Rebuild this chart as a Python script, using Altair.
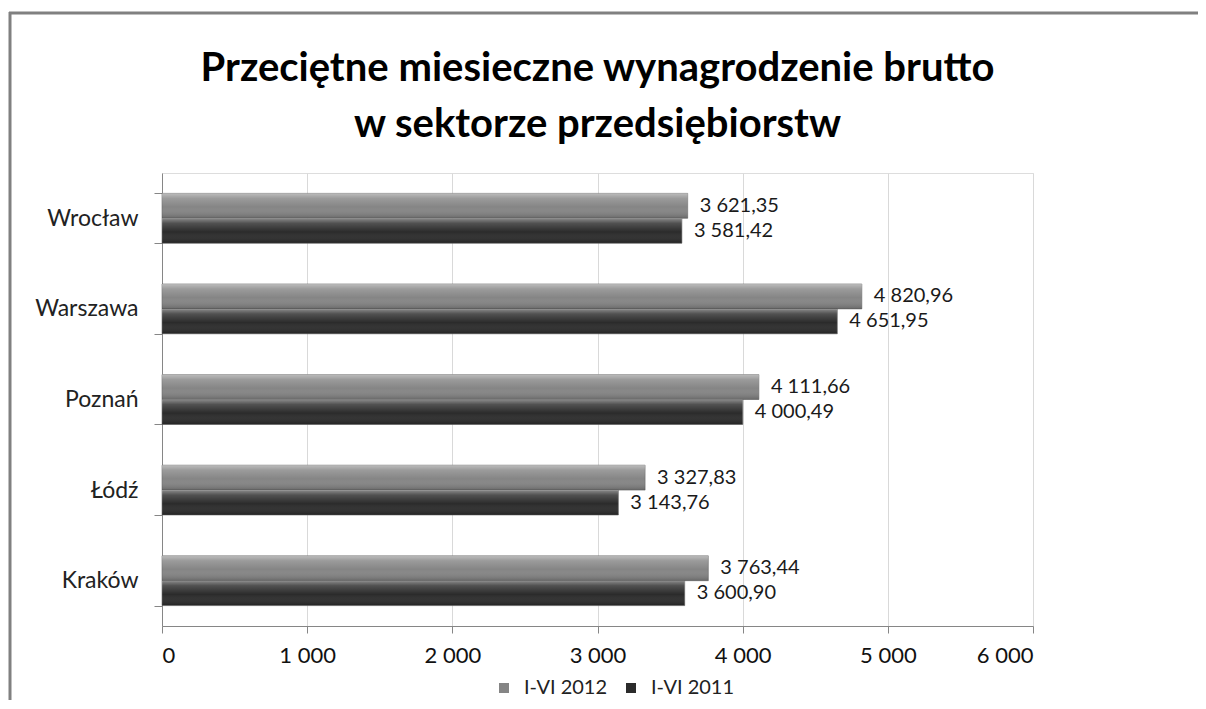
import altair as alt
import pandas as pd

cities = ["Wrocław", "Warszawa", "Poznań", "Łódź", "Kraków"]
series = ["I-VI 2012", "I-VI 2011"]
values_2012 = [3621.35, 4820.96, 4111.66, 3327.83, 3763.44]
values_2011 = [3581.42, 4651.95, 4000.49, 3143.76, 3600.90]
x_ticks = [0, 1000, 2000, 3000, 4000, 5000, 6000]
title_lines = ["Przeciętne miesieczne wynagrodzenie brutto", "w sektorze przedsiębiorstw"]


def pl(v):
    return f"{v:,.2f}".replace(",", " ").replace(".", ",")


rows = []
for c, a, b in zip(cities, values_2012, values_2011):
    rows.append({"miasto": c, "okres": series[0], "wartosc": a, "etykieta": pl(a)})
    rows.append({"miasto": c, "okres": series[1], "wartosc": b, "etykieta": pl(b)})
df = pd.DataFrame(rows)

FONT = "Lato"

x_enc = alt.X(
    "wartosc:Q",
    scale=alt.Scale(domain=[0, 6000], nice=False),
    axis=alt.Axis(
        values=x_ticks,
        title=None,
        grid=True,
        gridColor="#d9d9d9",
        domainColor="#868686",
        tickColor="#868686",
        tickSize=7,
        labelFontSize=22,
        labelFont=FONT,
        labelColor="#111111",
        labelPadding=12,
        labelExpr="replace(format(datum.value, ','), ',', ' ')",
    ),
)
y_enc = alt.Y(
    "miasto:N",
    sort=cities,
    scale=alt.Scale(paddingInner=0.45, paddingOuter=0.225),
    axis=alt.Axis(
        title=None,
        grid=False,
        tickBand="extent",
        domainColor="#868686",
        tickColor="#868686",
        tickSize=8,
        labelFontSize=23,
        labelFont=FONT,
        labelColor="#222222",
        labelPadding=16,
    ),
)
yoff_enc = alt.YOffset("okres:N", sort=series, scale=alt.Scale(domain=series, paddingInner=0, paddingOuter=0))

base = alt.Chart(df)

bars = base.mark_bar(stroke="#6a6a6a", strokeWidth=0.6).encode(
    x=x_enc,
    y=y_enc,
    yOffset=yoff_enc,
    color=alt.Color(
        "okres:N",
        sort=series,
        scale=alt.Scale(domain=series, range=["#858585", "#2b2b2b"]),
        legend=alt.Legend(
            title=None,
            orient="none",
            direction="horizontal",
            legendX=332,
            legendY=505,
            symbolType="square",
            symbolSize=100,
            symbolStrokeWidth=0,
            labelFontSize=20,
            labelFont=FONT,
            labelColor="#222222",
            columnPadding=13,
            labelOffset=10,
        ),
    ),
)

shine = base.mark_bar(
    fill=alt.Gradient(
        gradient="linear",
        x1=0, y1=0, x2=0, y2=1,
        stops=[
            alt.GradientStop(color="rgba(255,255,255,0.45)", offset=0),
            alt.GradientStop(color="rgba(255,255,255,0.18)", offset=0.2),
            alt.GradientStop(color="rgba(255,255,255,0.0)", offset=0.55),
            alt.GradientStop(color="rgba(0,0,0,0.22)", offset=1),
        ],
    )
).encode(x="wartosc:Q", y=alt.Y("miasto:N", sort=cities), yOffset=alt.YOffset("okres:N", sort=series))

labels = base.mark_text(
    align="left", baseline="middle", dx=12, fontSize=20, font=FONT, color="#1a1a1a"
).encode(
    x="wartosc:Q",
    y=alt.Y("miasto:N", sort=cities),
    yOffset=alt.YOffset("okres:N", sort=series),
    text="etykieta:N",
)

one = alt.Chart(pd.DataFrame({"k": [0]}))
frame_top = one.mark_rule(color="#808080", strokeWidth=3).encode(
    x=alt.value(-153), x2=alt.value(1040), y=alt.value(-160)
)
frame_left = one.mark_rule(color="#808080", strokeWidth=3).encode(
    x=alt.value(-152), y=alt.value(-161), y2=alt.value(560)
)

chart = (
    alt.layer(bars, shine, labels, frame_top, frame_left)
    .properties(
        width=871,
        height=453,
        title=alt.TitleParams(
            text=title_lines,
            fontSize=40,
            font=FONT,
            fontWeight="bold",
            color="#000000",
            anchor="middle",
            lineHeight=56,
            offset=12,
            dy=146,
        ),
        autosize=alt.AutoSizeParams(type="none"),
        padding={"left": 154, "top": 165, "right": 165, "bottom": 74},
    )
    .configure_view(stroke=None)
    .configure(background="white")
)

chart.save("out.html", embed_options={"renderer": "svg", "actions": False})
